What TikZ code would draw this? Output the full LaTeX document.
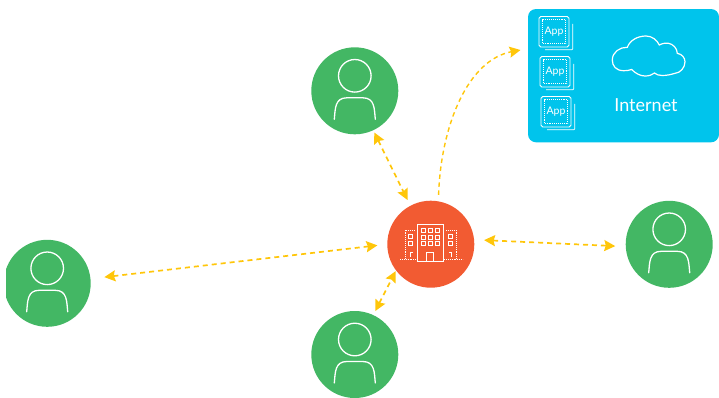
\documentclass[tikz,border=0pt]{standalone}
\usepackage{fontspec}
\setmainfont{Lato}
\usetikzlibrary{arrows.meta}
\definecolor{persongreen}{HTML}{43B764}
\definecolor{huborange}{HTML}{F25B32}
\definecolor{netcyan}{HTML}{00C4EC}
\definecolor{linkyellow}{HTML}{FFC60A}
\tikzset{
  x=1pt,y=-1pt,
  disc/.style={circle,minimum size=87pt,inner sep=0pt,outer sep=0pt,fill=#1},
  link/.style={draw=linkyellow,line width=1.7pt,dash pattern=on 5pt off 4pt,
    {Stealth[length=11pt,width=11pt,inset=1.5pt,fill=linkyellow]}-{Stealth[length=11pt,width=11pt,inset=1.5pt,fill=linkyellow]}},
  oneway/.style={draw=linkyellow,line width=1.4pt,dash pattern=on 4.5pt off 3.5pt,
    -{Stealth[length=11pt,width=11pt,inset=1.5pt,fill=linkyellow]}},
  icon/.style={draw=white,line width=1.3pt,line cap=round},
  thin icon/.style={draw=white,line width=.8pt},
  dots/.style={draw=white,line width=.8pt,dash pattern=on .9pt off 1pt},
  personicon/.pic={
    \draw[icon] (0,-15) circle[radius=16.3];
    \draw[icon] (-20.5,28.5) .. controls (-19.5,18) and (-20,7) .. (-8,7) -- (8,7) .. controls (20,7) and (19.5,18) .. (20.5,28.5);
  },
  appicon/.pic={
    \draw[draw=white,line width=.8pt,rounded corners=1.8pt] (-15,-15) rectangle (15,15.5);
    \draw[dots] (-12,-12) rectangle (11.7,12);
    \draw[draw=white,line width=.7pt,rounded corners=1pt] (-9,18.3) -- (18.7,18.3) -- (18.7,-7.7);
    \node[text=white,font=\fontsize{10.5}{12}\selectfont,inner sep=0pt] (-label) at (0,-.3) {App};
  },
  windowbox/.style={draw=white,line width=.8pt},
}
\begin{document}
\begin{tikzpicture}
\useasboundingbox (0,0) rectangle (719,397);
% people
\begin{scope}
  \clip (6,230) rectangle (120,340);
  \node[disc=persongreen] (pleft) at (47.2,283.3) {};
  \pic at (pleft.center) {personicon};
\end{scope}
\node[disc=persongreen] (ptop) at (354.8,90.8) {};
\pic at (ptop.center) {personicon};
\node[disc=persongreen] (pbottom) at (354.8,354.5) {};
\pic at (pbottom.center) {personicon};
\node[disc=persongreen] (pright) at (669.2,244.3) {};
\pic at (pright.center) {personicon};
% hub
\node[disc=huborange] (hub) at (430.8,244.2) {};
\draw[thin icon,line width=1pt] (417.3,261.5) rectangle (443.3,224);
\draw[thin icon] (426.7,261.5) -- (426.7,252.3) -- (433.5,252.3) -- (433.5,261.5);
\foreach \wx in {421.7,428.7,435.7}
  \foreach \wy in {228.3,235,241.7}
    \draw[windowbox] (\wx,\wy) rectangle +(4,4);
\foreach \wx in {408.3,448.3}
  \foreach \wy in {234.3,241}
    \draw[windowbox] (\wx,\wy) rectangle +(4.3,4);
\draw[dots] (400,259) -- (417,259);
\draw[dots] (444,259) -- (463,259);
\draw[dots] (405,259) -- (405,230) -- (415.5,230);
\draw[dots] (456,259) -- (456,230) -- (446,230);
\draw[thin icon] (410,257) -- (410,252.5) -- (413,252.5);
\draw[thin icon] (451.7,257) -- (451.7,252.5) -- (448.7,252.5);
% internet panel
\node[fill=netcyan,rounded corners=8pt,inner sep=0pt,outer sep=0pt,minimum width=191pt,minimum height=133.3pt] (panel) at (623.5,75.65) {};
\pic (appa) at (554,31.5) {appicon};
\pic (appb) at (555,71.5) {appicon};
\pic (appc) at (556,111.5) {appicon};
\draw[draw=white,line width=1.2pt] (623.3,70.7)
  .. controls (616,70.5) and (612.3,66) .. (612.3,60)
  .. controls (612.3,52) and (620,47) .. (627.3,47.3)
  .. controls (630,40) and (638,36) .. (646,36)
  .. controls (652,36) and (657,40) .. (659.3,45)
  .. controls (663,43) and (666,43) .. (668.3,43.3)
  .. controls (673,44) and (677,48) .. (677.3,53.3)
  .. controls (682,54) and (685,58) .. (685,61.7)
  .. controls (685,68) and (680,73) .. (675,73.3)
  .. controls (671,74.5) and (667,75.5) .. (662,75.5)
  .. controls (659,75.5) and (656,74.5) .. (654.5,73)
  .. controls (652,75) and (649,76) .. (645,76)
  .. controls (640,76) and (635,73) .. (631.7,69.5)
  .. controls (629,70.5) and (626,70.8) .. (623.3,70.7);
\node[text=white,font=\fontsize{18}{20}\selectfont,inner sep=0pt] (internet) at (646,105.5) {Internet};
% connectors
\coordinate (panelin) at (520.5,50);
\draw[link,shorten <=2.5pt,shorten >=6.5pt] (ptop.-65) -- (hub.118);
\draw[link,shorten <=4.5pt,shorten >=.8pt] (pbottom.65) -- (hub.217);
\draw[link,shorten <=14pt,shorten >=10pt] (pleft.6) -- (hub.180);
\draw[link,shorten <=10pt,shorten >=10.5pt] (hub.6) -- (pright.183);
\draw[oneway,shorten <=6.5pt] (hub.80) .. controls (441,125) and (468,60) .. (panelin);
\end{tikzpicture}
\end{document}
